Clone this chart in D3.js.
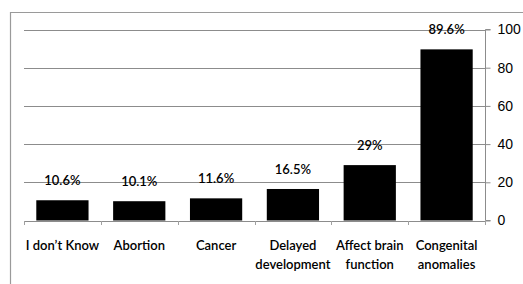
<!DOCTYPE html>
<html lang="en">
<head>
<meta charset="UTF-8">
<title>Perceived effects</title>
<script src="https://d3js.org/d3.v7.min.js"></script>
<style>
  body { margin: 0; background: #fff; }
</style>
</head>
<body>
<svg width="523" height="284"></svg>
<script>
  const categories = [
    ["I don\u2019t Know"],
    ["Abortion"],
    ["Cancer"],
    ["Delayed", "development"],
    ["Affect brain", "function"],
    ["Congenital", "anomalies"]
  ];
  const values = [10.6, 10.1, 11.6, 16.5, 29, 89.6];
  const valueLabels = ["10.6%", "10.1%", "11.6%", "16.5%", "29%", "89.6%"];
  const yTicks = [0, 20, 40, 60, 80, 100];

  const svg = d3.select("svg");
  const plotLeft = 24, plotRight = 485, plotTop = 29.5, plotBottom = 220.5;

  // outer frame (only top and left edges visible)
  svg.append("path")
    .attr("d", "M10.5,284 V12.5 H523")
    .attr("fill", "none")
    .attr("stroke", "#9a9a9a")
    .attr("stroke-width", 1.2);

  const x = d3.scaleBand()
    .domain(d3.range(values.length))
    .range([plotLeft, plotRight])
    .paddingInner(0.32)
    .paddingOuter(0.16);

  const y = d3.scaleLinear()
    .domain([0, 100])
    .range([plotBottom, plotTop]);

  // gridlines
  svg.append("g")
    .selectAll("line")
    .data(yTicks.slice(1))
    .join("line")
    .attr("x1", plotLeft).attr("x2", plotRight)
    .attr("y1", d => Math.round(y(d)) + 0.5)
    .attr("y2", d => Math.round(y(d)) + 0.5)
    .attr("stroke", "#8c8c8c");

  // bars
  svg.append("g")
    .selectAll("rect")
    .data(values)
    .join("rect")
    .attr("x", (d, i) => x(i))
    .attr("y", d => y(d))
    .attr("width", x.bandwidth())
    .attr("height", d => y(0) - y(d))
    .attr("fill", "#000");

  // right axis
  const yAxis = svg.append("g")
    .attr("transform", `translate(${plotRight + 0.5},0)`)
    .call(d3.axisRight(y).tickValues(yTicks).tickSize(5).tickPadding(7));
  yAxis.select(".domain").attr("stroke", "#8c8c8c").attr("d", `M5,${plotTop}H0V${plotBottom}H5`);
  yAxis.selectAll(".tick line").attr("stroke", "#8c8c8c");
  yAxis.selectAll(".tick text")
    .attr("fill", "#000")
    .style("font-family", "Liberation Sans, Arial, sans-serif")
    .style("font-size", "14px");

  // bottom axis line with category separators
  const step = x.step();
  const bounds = d3.range(values.length + 1).map(i => plotLeft + i * step);
  svg.append("line")
    .attr("x1", plotLeft).attr("x2", plotRight)
    .attr("y1", Math.round(y(0)) + 0.5).attr("y2", Math.round(y(0)) + 0.5)
    .attr("stroke", "#8c8c8c");
  svg.append("g")
    .selectAll("line")
    .data(bounds)
    .join("line")
    .attr("x1", d => Math.round(d) + 0.5).attr("x2", d => Math.round(d) + 0.5)
    .attr("y1", Math.round(y(0))).attr("y2", Math.round(y(0)) + 4)
    .attr("stroke", "#a0a0a0");

  // value labels
  svg.append("g")
    .selectAll("text")
    .data(values)
    .join("text")
    .attr("x", (d, i) => x(i) + x.bandwidth() / 2)
    .attr("y", d => y(d) - 15)
    .attr("text-anchor", "middle")
    .style("font-family", "Lato, sans-serif")
    .style("font-weight", "600")
    .style("font-size", "13px")
    .text((d, i) => valueLabels[i]);

  // category labels
  const cat = svg.append("g")
    .selectAll("text")
    .data(categories)
    .join("text")
    .attr("x", (d, i) => x(i) + x.bandwidth() / 2)
    .attr("y", 250)
    .attr("text-anchor", "middle")
    .style("font-family", "Lato, sans-serif")
    .style("font-size", "13px")
    .style("font-weight", "600");
  cat.selectAll("tspan")
    .data(d => d)
    .join("tspan")
    .attr("x", function () { return this.parentNode.getAttribute("x"); })
    .attr("dy", (d, i) => i === 0 ? 0 : 19)
    .text(d => d);
</script>
</body>
</html>
